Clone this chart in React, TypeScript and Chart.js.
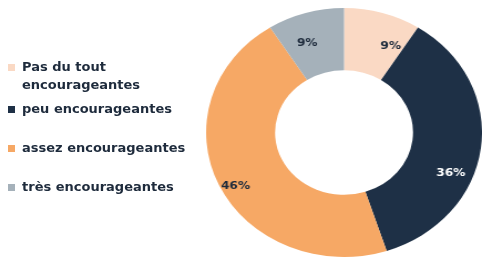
import React, { useEffect, useRef } from "react";
import { Chart, registerables } from "chart.js";

Chart.register(...registerables);

const categories = ["Pas du tout encourageantes", "peu encourageantes", "assez encourageantes", "très encourageantes"];
const legendLines = [["Pas du tout", "encourageantes"], ["peu encourageantes"], ["assez encourageantes"], ["très encourageantes"]];
const values = [9, 36, 46, 9];
const colors = ["#FAD9C4", "#1E3046", "#F6A865", "#A5B1BA"];
const labelColors = ["#1E2B3C", "#FFFFFF", "#1E2B3C", "#1E2B3C"];
// position of each label along its slice (fraction of angle) and across the ring (fraction of thickness)
const labelAngleFrac = [0.8, 0.62, 0.48, 0.37];
const labelRadiusFrac = [0.55, 0.68, 0.79, 0.53];
const legendTops = [58, 100, 139, 178];
const stretchX = 1.108;

const labelPlugin = {
  id: "sliceLabels",
  afterDatasetsDraw(chart: any) {
    const ctx = chart.ctx;
    const meta = chart.getDatasetMeta(0);
    ctx.save();
    ctx.font = "bold 11px 'DejaVu Sans'";
    ctx.textAlign = "center";
    ctx.textBaseline = "middle";
    meta.data.forEach((arc: any, i: number) => {
      const p = arc.getProps(["x", "y", "startAngle", "endAngle", "innerRadius", "outerRadius"], true);
      const a = p.startAngle + (p.endAngle - p.startAngle) * labelAngleFrac[i];
      const r = p.innerRadius + (p.outerRadius - p.innerRadius) * labelRadiusFrac[i];
      ctx.fillStyle = labelColors[i];
      ctx.fillText(values[i] + "%", p.x + Math.cos(a) * r, p.y + Math.sin(a) * r);
    });
    ctx.restore();
  },
};

export default function App() {
  const ref = useRef<HTMLCanvasElement>(null);
  useEffect(() => {
    const chart = new Chart(ref.current!, {
      type: "doughnut",
      data: {
        labels: categories,
        datasets: [{ data: values, backgroundColor: colors, borderWidth: 0 }],
      },
      options: {
        responsive: false,
        animation: false,
        cutout: "50%",
        layout: { padding: { left: 186, right: 0, top: 8, bottom: 2 } },
        plugins: { legend: { display: false }, tooltip: { enabled: false } },
      },
      plugins: [labelPlugin],
    });
    return () => chart.destroy();
  }, []);
  return (
    <div style={{ position: "fixed", left: 0, top: 0, width: 482, height: 259, background: "#fff", overflow: "hidden" }}>
      <canvas
        ref={ref}
        width={435}
        height={259}
        style={{ position: "absolute", left: 0, top: 0, width: 435, height: 259, transform: `scaleX(${stretchX})`, transformOrigin: "0 0" }}
      />
      {legendLines.map((lines, i) => (
        <div key={i} style={{ position: "absolute", left: 8, top: legendTops[i], display: "flex", alignItems: "flex-start", fontFamily: "'DejaVu Sans'", fontWeight: "bold", fontSize: 13, lineHeight: "18px", color: "#1E2B3C" }}>
          <span style={{ width: 7, height: 7, background: colors[i], marginTop: 6, marginRight: 7, flex: "none" }} />
          <span>{lines.map((l, j) => <div key={j}>{l}</div>)}</span>
        </div>
      ))}
    </div>
  );
}
